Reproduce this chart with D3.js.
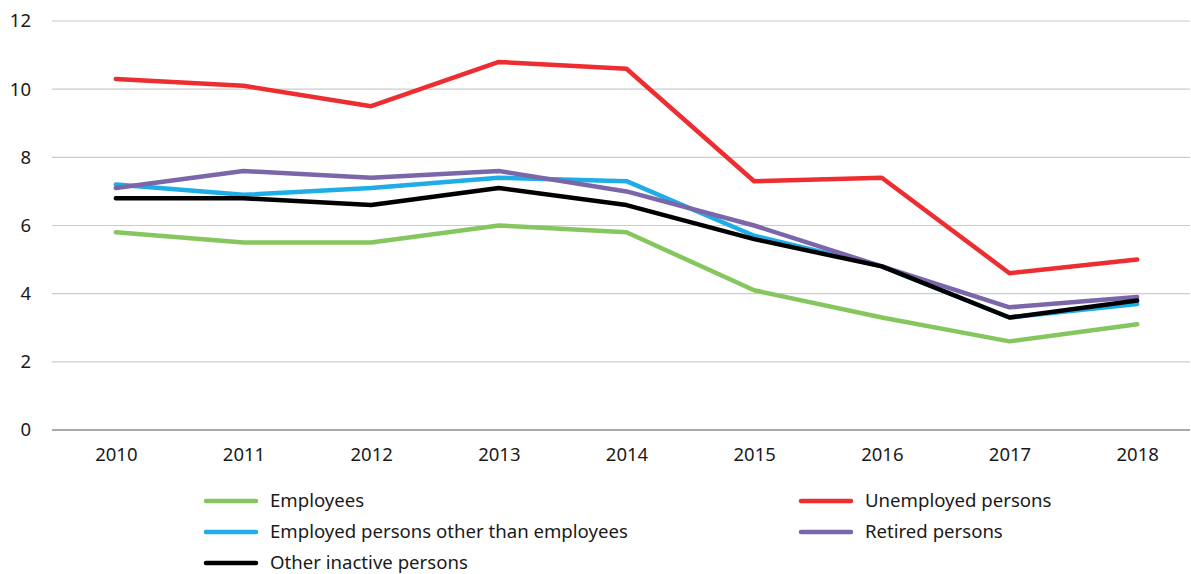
<!DOCTYPE html>
<html>
<head>
<meta charset="utf-8">
<script src="https://cdn.jsdelivr.net/npm/d3@7"></script>
<style>
  html, body { margin: 0; padding: 0; background: #fff; }
  svg { display: block; font-family: "Noto Sans", "Open Sans", sans-serif; }
</style>
</head>
<body>
<svg id="chart" width="1191" height="574"></svg>
<script>
// Years on the x axis
const years = ["2010", "2011", "2012", "2013", "2014", "2015", "2016", "2017", "2018"];

// One array per group (percent)
const employees       = [5.8, 5.5, 5.5, 6.0, 5.8, 4.1, 3.3, 2.6, 3.1];
const unemployed      = [10.3, 10.1, 9.5, 10.8, 10.6, 7.3, 7.4, 4.6, 5.0];
const otherEmployed   = [7.2, 6.9, 7.1, 7.4, 7.3, 5.7, 4.8, 3.3, 3.7];
const retired         = [7.1, 7.6, 7.4, 7.6, 7.0, 6.0, 4.8, 3.6, 3.9];
const otherInactive   = [6.8, 6.8, 6.6, 7.1, 6.6, 5.6, 4.8, 3.3, 3.8];

const yTicks = [0, 2, 4, 6, 8, 10, 12];

const seriesNames = ["Employees", "Unemployed persons", "Employed persons other than employees", "Retired persons", "Other inactive persons"];
const seriesColors = ["#86c65f", "#ee2d30", "#1fade5", "#7c66aa", "#000000"];
const seriesValues = [employees, unemployed, otherEmployed, retired, otherInactive];

const series = seriesNames.map((name, i) => ({ name, color: seriesColors[i], values: seriesValues[i] }));

const svg = d3.select("#chart");
const plotLeft = 52, plotRight = 1190, plotTop = 21, plotBottom = 430;

// Category slots run slightly past the right edge of the gridlines
const x = d3.scalePoint().domain(years).range([plotLeft, 1201]).padding(0.5);
const y = d3.scaleLinear().domain([0, 12]).range([plotBottom, plotTop]);

// Horizontal gridlines
svg.append("g")
  .selectAll("line")
  .data(yTicks)
  .join("line")
  .attr("x1", plotLeft).attr("x2", plotRight)
  .attr("y1", d => y(d)).attr("y2", d => y(d))
  .attr("stroke", d => d === 0 ? "#8c8c8c" : "#cccccc")
  .attr("stroke-width", d => d === 0 ? 1.3 : 1.2);

// Y axis labels
const yAxis = svg.append("g")
  .attr("transform", `translate(31,0)`)
  .call(d3.axisLeft(y).tickValues(yTicks).tickSize(0).tickPadding(0));
yAxis.select(".domain").remove();
yAxis.selectAll("text")
  .attr("font-size", 18.5)
  .attr("fill", "#1a1a1a")
  .attr("font-family", "'Noto Sans', sans-serif");

// X axis labels
const xAxis = svg.append("g")
  .attr("transform", `translate(0,${plotBottom})`)
  .call(d3.axisBottom(x).tickSize(0).tickPadding(18));
xAxis.select(".domain").remove();
xAxis.selectAll("text")
  .attr("font-size", 18.5)
  .attr("fill", "#1a1a1a")
  .attr("font-family", "'Noto Sans', sans-serif");

// Lines
const line = d3.line()
  .x((d, i) => x(years[i]))
  .y(d => y(d));

svg.append("g")
  .selectAll("path")
  .data(series)
  .join("path")
  .attr("d", d => line(d.values))
  .attr("fill", "none")
  .attr("stroke", d => d.color)
  .attr("stroke-width", 4.5)
  .attr("stroke-linejoin", "round")
  .attr("stroke-linecap", "round");

// Legend: two columns
const legendPos = [
  { x: 204, y: 501 },
  { x: 799, y: 501 },
  { x: 204, y: 532 },
  { x: 799, y: 532 },
  { x: 204, y: 563 }
];

const legend = svg.append("g")
  .selectAll("g")
  .data(series.map((s, k) => ({ s, p: legendPos[k] })))
  .join("g")
  .attr("transform", d => `translate(${d.p.x},${d.p.y})`);

legend.append("line")
  .attr("x1", 2).attr("x2", 52)
  .attr("y1", 0).attr("y2", 0)
  .attr("stroke", d => d.s.color)
  .attr("stroke-width", 4.5)
  .attr("stroke-linecap", "round");

legend.append("text")
  .attr("x", 66)
  .attr("y", 0)
  .attr("dy", "0.3em")
  .attr("font-size", 18.6)
  .attr("fill", "#1a1a1a")
  .text(d => d.s.name);
</script>
</body>
</html>
